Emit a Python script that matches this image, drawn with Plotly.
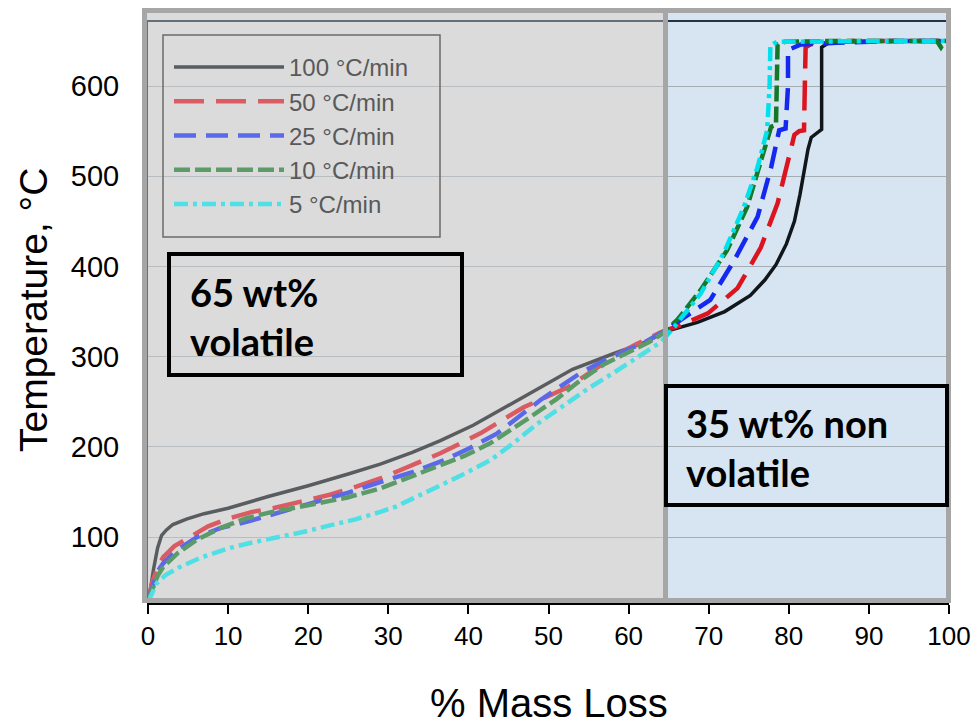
import plotly.graph_objects as go

# ---------------- data ----------------
series_names = ["100 °C/min", "50 °C/min", "25 °C/min", "10 °C/min", "5 °C/min"]

x_100 = [0, 0.3, 0.7, 1.2, 1.7, 2.3, 3.1, 4.8, 7, 10, 15, 20, 25, 29, 33, 36.5, 40.6, 44, 47.4, 50, 53, 58, 62, 65,
         68.6, 72, 75.2, 77, 78.4, 79.7, 80.7, 81.4, 81.9, 82.4, 82.8, 83.5, 84.1, 84.1, 84.1, 85, 90, 95, 100]
t_100 = [30, 42, 65, 88, 102, 108, 114, 120, 126, 132, 145, 157, 170, 181, 194, 207, 224, 241, 259, 272, 286, 303, 316, 329,
         338, 350, 368, 385, 402, 425, 450, 480, 507, 530, 543, 548, 552, 600, 643, 648, 650, 650, 650]

x_50 = [0, 0.3, 0.6, 1.2, 1.9, 3.3, 5.2, 7.5, 10.2, 13, 15.6, 19, 22.7, 26, 29, 32.5, 36.5, 41.5, 46.9, 52.4, 55, 58.1, 61, 64,
        66.5, 69.9, 73.6, 76.5, 78.6, 80.2, 80.7, 81.3, 81.9, 82.0, 82.1, 83, 88, 94, 100]
t_50 = [30, 40, 52, 66, 78, 90, 100, 112, 121, 128, 132, 139, 147, 156, 165, 178, 193, 215, 244, 266, 282, 300, 314, 327,
        335, 348, 376, 421, 470, 526, 546, 550, 551, 600, 643, 648, 650, 650, 650]

x_25 = [0, 0.3, 0.6, 1.2, 1.9, 3.5, 6.1, 9, 12.3, 15.5, 18.6, 22, 24.9, 29, 33, 36.9, 40, 43.6, 46, 49, 51.5, 54, 57, 59.9, 62, 64,
        66.5, 70.2, 73.2, 76.1, 77.8, 78.8, 79.6, 79.9, 79.9, 81.5, 86, 93, 100]
t_25 = [30, 38, 49, 62, 71, 85, 100, 110, 117, 125, 133, 141, 149, 161, 172, 185, 198, 215, 232, 252, 267, 282, 296, 307, 316, 326,
        341, 363, 407, 455, 510, 551, 553, 600, 640, 646, 648, 650, 650]

x_10 = [0, 0.3, 0.6, 1.2, 1.9, 3.8, 6.1, 9, 12.3, 15.5, 18.6, 21.5, 24.9, 29, 32.5, 36.1, 39.5, 42.7, 45, 47.7, 51, 54, 57, 60.6,
        62.5, 64, 66.1, 69, 72.3, 74.8, 76.5, 77.8, 78.4, 78.5, 78.6, 79.5, 85, 92, 98.5, 99, 99.5, 100]
t_10 = [30, 36, 45, 57, 67, 83, 97, 110, 121, 128, 133, 138, 144, 154, 166, 178, 190, 204, 217, 233, 253, 274, 292, 307,
        316, 324, 341, 374, 418, 466, 515, 555, 557, 600, 646, 649, 650, 650, 650, 643, 650, 650]

x_5 = [0, 0.25, 0.6, 1.1, 2.2, 4, 6.5, 10.2, 13, 16.5, 19.5, 22.7, 26, 29, 31, 33.1, 36, 39, 42.7, 45.3, 48.5, 52.4, 55, 58.1, 61, 64,
       65.7, 69, 71.9, 74.4, 76.1, 77.3, 77.6, 77.7, 78.5, 85, 92, 100]
t_5 = [28, 33, 41, 49, 58, 67, 77, 88, 94, 100, 106, 113, 120, 128, 134, 143, 155, 168, 185, 202, 225, 249, 265, 282, 298, 316,
       333, 370, 415, 466, 510, 551, 600, 645, 649, 650, 650, 650]

x_ticks = [0, 10, 20, 30, 40, 50, 60, 70, 80, 90, 100]
y_ticks = [100, 200, 300, 400, 500, 600]

# ---------------- styling ----------------
W, H = 977, 725
ML, MR, MT, MB = 148, 28, 22, 122
PW, PH = W - ML - MR, H - MT - MB


def px(xp):
    return (xp - ML) / PW


def py(yp):
    return (H - MB - yp) / PH


colors = ["#10161b", "#dc1420", "#1428f0", "#147828", "#00e1eb"]
ALPHA = 0.36


def faded(hexc):
    r, g, b = int(hexc[1:3], 16), int(hexc[3:5], 16), int(hexc[5:7], 16)
    f = lambda c: int(round(c * (1 - ALPHA) + 220 * ALPHA))
    return "rgb(%d,%d,%d)" % (f(r), f(g), f(b))


dashes = ["solid", "30px,12px", "22px,10px", "16px,5px", "14px,5px,4px,5px"]
widths = [3.5, 4.5, 4.5, 4.5, 4.5]

data_x = [x_100, x_50, x_25, x_10, x_5]
data_t = [t_100, t_50, t_25, t_10, t_5]

fig = go.Figure()
for i in range(5):
    fig.add_trace(go.Scatter(x=data_x[i], y=data_t[i], mode="lines", name=series_names[i],
                             line=dict(color=colors[i], width=widths[i], dash=dashes[i]),
                             showlegend=False, hoverinfo="skip"))
# legend entries (shown faded, as under the grey panel)
for i in range(5):
    fig.add_trace(go.Scatter(x=[None], y=[None], mode="lines", name=series_names[i],
                             line=dict(color=faded(colors[i]), width=widths[i], dash=dashes[i]),
                             showlegend=True))

xl, xr = px(144.5), px(948.5)
yb, yt = py(600.5), py(10.5)
xd = px(665.5)

shapes = [
    dict(type="rect", xref="paper", yref="paper", x0=xl, x1=xd, y0=yb, y1=yt,
         fillcolor="#dcdcdc", line=dict(width=0), layer="below"),
    dict(type="rect", xref="paper", yref="paper", x0=xd, x1=xr, y0=yb, y1=yt,
         fillcolor="#d6e5f1", line=dict(width=0), layer="below"),
    dict(type="rect", xref="paper", yref="paper", x0=xl, x1=xd, y0=yb, y1=yt,
         fillcolor="rgba(220,220,220,%.2f)" % ALPHA, line=dict(width=0), layer="above"),
    dict(type="rect", xref="paper", yref="paper", x0=xl, x1=xr, y0=yb, y1=yt,
         fillcolor="rgba(0,0,0,0)", line=dict(color="#a6a6a6", width=5), layer="above"),
    dict(type="line", xref="paper", yref="paper", x0=xd, x1=xd, y0=yb, y1=yt,
         line=dict(color="#a6a6a6", width=5), layer="above"),
    # legend frame
    dict(type="rect", xref="paper", yref="paper", x0=px(163), x1=px(440), y0=py(237), y1=py(35),
         fillcolor="rgba(0,0,0,0)", line=dict(color="#6b6b6b", width=1.5), layer="above"),
    # text boxes
    dict(type="rect", xref="paper", yref="paper", x0=px(169), x1=px(462), y0=py(375), y1=py(254),
         fillcolor="rgba(0,0,0,0)", line=dict(color="black", width=4), layer="above"),
    dict(type="rect", xref="paper", yref="paper", x0=px(666), x1=px(947), y0=py(505), y1=py(386),
         fillcolor="rgba(0,0,0,0)", line=dict(color="black", width=4), layer="above"),
]

box_font = dict(family="Lato, 'Open Sans', sans-serif", size=38, color="black")
annotations = [
    dict(xref="paper", yref="paper", x=px(188), y=py(316), xanchor="left", yanchor="middle",
         text="<b>65 wt%</b><br><b>volatile</b>", align="left", showarrow=False, font=box_font),
    dict(xref="paper", yref="paper", x=px(684), y=py(448), xanchor="left", yanchor="middle",
         text="<b>35 wt% non</b><br><b>volatile</b>", align="left", showarrow=False, font=box_font),
    dict(xref="paper", yref="paper", x=px(33), y=py(310), xanchor="center", yanchor="middle",
         text="Temperature, °C", textangle=-90, showarrow=False,
         font=dict(family="Liberation Sans, Arial, sans-serif", size=39, color="black")),
    dict(xref="paper", yref="paper", x=px(549), y=py(703), xanchor="center", yanchor="middle",
         text="% Mass Loss", showarrow=False,
         font=dict(family="Liberation Sans, Arial, sans-serif", size=40, color="black")),
]

fig.update_layout(
    width=W, height=H,
    margin=dict(l=ML, r=MR, t=MT, b=MB, pad=0),
    paper_bgcolor="white",
    plot_bgcolor="rgba(0,0,0,0)",
    shapes=shapes,
    annotations=annotations,
    showlegend=True,
    legend=dict(x=px(169), y=py(45), xanchor="left", yanchor="top",
                bgcolor="rgba(0,0,0,0)", borderwidth=0, itemwidth=110,
                font=dict(family="Liberation Sans, Arial, sans-serif", size=24, color="#595959"),
                tracegroupgap=0),
    xaxis=dict(range=[0, 100], tickvals=x_ticks, ticktext=[str(v) for v in x_ticks],
               showgrid=False, zeroline=False, showline=True, linecolor="black", linewidth=2,
               mirror=False, ticks="outside", ticklen=9, tickwidth=2, tickcolor="black",
               automargin=False,
               tickfont=dict(family="Liberation Sans, Arial, sans-serif", size=26, color="black")),
    xaxis2=dict(overlaying="x", side="top", range=[0, 100], showline=True, linecolor="#223344", linewidth=1.5,
                showticklabels=False, showgrid=False, zeroline=False, ticks="", automargin=False),
    yaxis=dict(range=[27, 671], tickvals=y_ticks, ticktext=[str(v) for v in y_ticks],
               showgrid=True, gridcolor="#a4adb4", gridwidth=1.2, zeroline=False, automargin=False,
               showline=True, linecolor="#333333", linewidth=1, ticks="", ticklabelstandoff=22,
               tickfont=dict(family="Liberation Sans, Arial, sans-serif", size=29, color="black")),
)
fig.add_trace(go.Scatter(x=[None], y=[None], xaxis="x2", showlegend=False, hoverinfo="skip"))

fig.write_html("out.html", config={"displayModeBar": False},
               post_script="document.body.style.margin='0px';document.body.style.overflow='hidden';")
